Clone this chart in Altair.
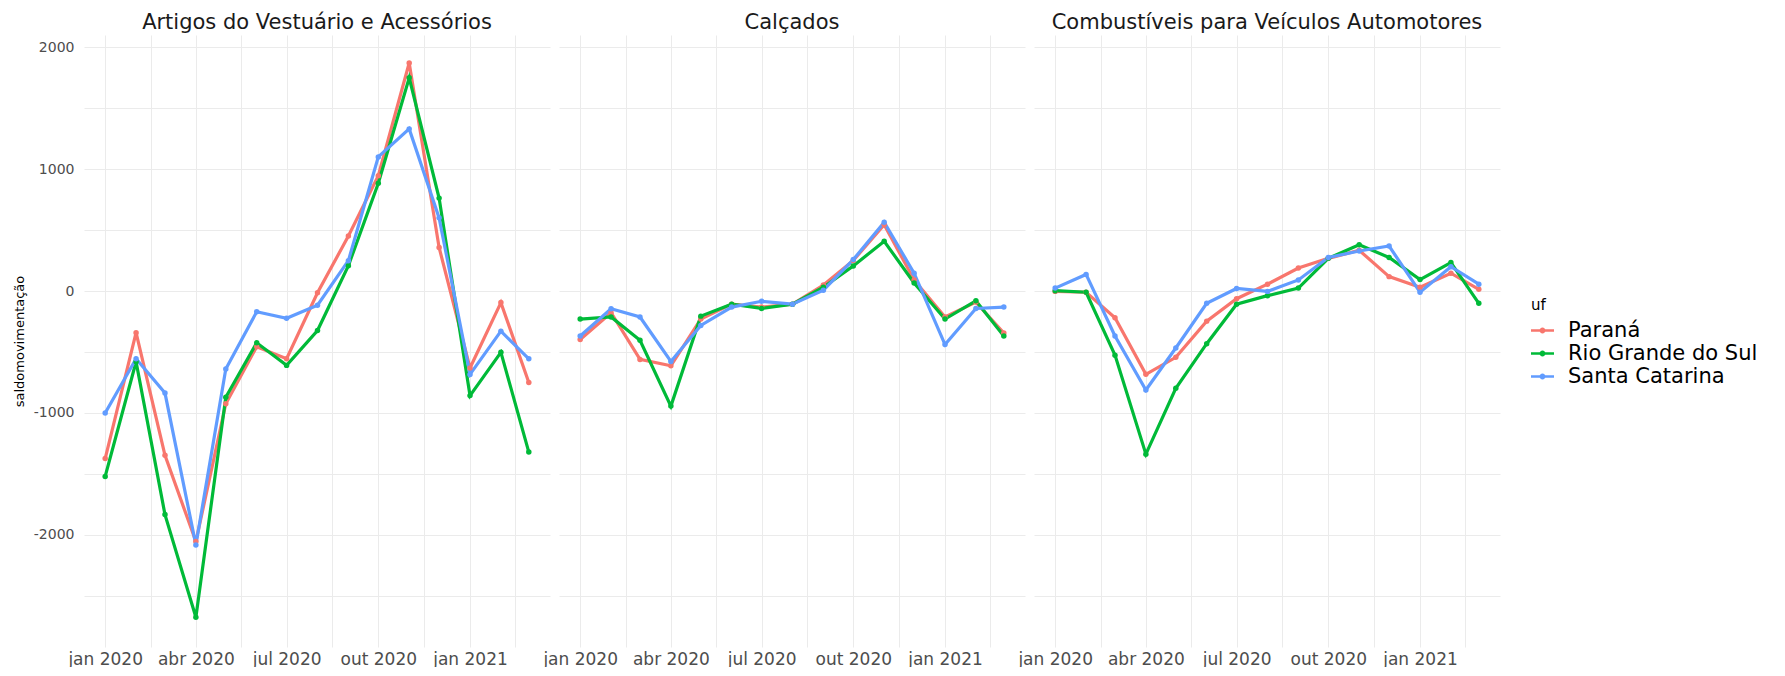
import altair as alt
import pandas as pd

# ---- data ----
meses = ["2020-01-01", "2020-02-01", "2020-03-01", "2020-04-01", "2020-05-01",
         "2020-06-01", "2020-07-01", "2020-08-01", "2020-09-01", "2020-10-01",
         "2020-11-01", "2020-12-01", "2021-01-01", "2021-02-01", "2021-03-01"]
categorias = ["Artigos do Vestuário e Acessórios", "Calçados",
              "Combustíveis para Veículos Automotores"]
ufs = ["Paraná", "Rio Grande do Sul", "Santa Catarina"]
cores = ["#F8766D", "#00BA38", "#619CFF"]

vest_pr = [-1374, -342, -1348, -2055, -925, -457, -556, -15, 451, 946, 1870, 357, -631, -95, -751]
vest_rs = [-1521, -580, -1834, -2676, -872, -425, -610, -324, 208, 884, 1749, 762, -858, -503, -1321]
vest_sc = [-1000, -556, -837, -2083, -639, -170, -224, -116, 249, 1100, 1330, 600, -684, -329, -556]

calc_pr = [-397, -178, -561, -613, -230, -108, -132, -108, 49, 251, 544, 91, -213, -91, -345]
calc_rs = [-230, -213, -404, -944, -206, -108, -143, -108, 31, 206, 408, 66, -230, -80, -369]
calc_sc = [-369, -146, -213, -578, -282, -132, -84, -108, 7, 258, 564, 146, -439, -143, -132]

comb_pr = [-3, -10, -220, -683, -544, -247, -63, 56, 188, 268, 334, 118, 31, 146, 14]
comb_rs = [3, -10, -526, -1338, -798, -432, -108, -38, 24, 268, 380, 275, 94, 233, -101]
comb_sc = [24, 136, -369, -812, -467, -101, 21, -3, 91, 275, 328, 369, -10, 199, 56]

series = {
    categorias[0]: [vest_pr, vest_rs, vest_sc],
    categorias[1]: [calc_pr, calc_rs, calc_sc],
    categorias[2]: [comb_pr, comb_rs, comb_sc],
}

rows = []
for cat in categorias:
    for uf, vals in zip(ufs, series[cat]):
        for m, v in zip(meses, vals):
            rows.append({"categoria": cat, "uf": uf, "mes": m, "saldo": v})
df = pd.DataFrame(rows)

# ---- axes / scales ----
x_values = [
    alt.DateTime(year=2020, month=1, date=1, utc=True),
    alt.DateTime(year=2020, month=2, date=15, hours=12, utc=True),
    alt.DateTime(year=2020, month=4, date=1, utc=True),
    alt.DateTime(year=2020, month=5, date=16, utc=True),
    alt.DateTime(year=2020, month=7, date=1, utc=True),
    alt.DateTime(year=2020, month=8, date=16, utc=True),
    alt.DateTime(year=2020, month=10, date=1, utc=True),
    alt.DateTime(year=2020, month=11, date=16, utc=True),
    alt.DateTime(year=2021, month=1, date=1, utc=True),
    alt.DateTime(year=2021, month=2, date=15, utc=True),
]
month_expr = ("utcdate(datum.value) == 1 ? "
              "['jan','fev','mar','abr','mai','jun','jul','ago','set','out','nov','dez']"
              "[utcmonth(datum.value)] + ' ' + utcyear(datum.value) : ''")

x_enc = alt.X(
    "mes:T",
    scale=alt.Scale(type="utc", domain=[
        alt.DateTime(year=2019, month=12, date=10, hours=18, utc=True),
        alt.DateTime(year=2021, month=3, date=22, hours=6, utc=True)]),
    axis=alt.Axis(values=x_values, labelExpr=month_expr, title=None, grid=True,
                  domain=False, ticks=False, labelFlush=False, labelOverlap=False,
                  labelFontSize=17, labelColor="#4D4D4D", labelPadding=4,
                  gridColor="#EBEBEB", gridWidth=1),
)
y_enc = alt.Y(
    "saldo:Q",
    scale=alt.Scale(domain=[-2920, 2100], nice=False, zero=False),
    axis=alt.Axis(values=[-2500, -2000, -1500, -1000, -500, 0, 500, 1000, 1500, 2000],
                  labelExpr="datum.value % 1000 == 0 ? '' + datum.value : ''",
                  title="saldomovimentação", titleFontSize=13, titleFontWeight="normal",
                  titleColor="#000000", titlePadding=7, grid=True, domain=False,
                  ticks=False, labelFontSize=14, labelColor="#4D4D4D", labelPadding=10,
                  gridColor="#EBEBEB", gridWidth=1),
)

legend_path = ("M-1,-0.1L1,-0.1L1,0.1L-1,0.1Z "
               "M-0.26,0A0.26,0.26 0 1,1 0.26,0A0.26,0.26 0 1,1 -0.26,0Z")

legenda = alt.Legend(
    title="uf", orient="none", legendX=1447, legendY=263,
    titleFontSize=15, titleFontWeight="normal", titleColor="#000000",
    titlePadding=6, labelFontSize=21, labelColor="#000000", labelOffset=14,
    symbolType=legend_path, symbolSize=529, symbolStrokeWidth=0,
    symbolOpacity=1, rowPadding=1, labelLimit=400)

color_scale = alt.Scale(domain=ufs, range=cores)

base = alt.Chart(df)

zero = base.mark_rule(color="#000000", strokeDash=[6, 4], strokeWidth=1).encode(
    y=alt.datum(0)
).transform_filter("datum.uf == 'Paraná' && datum.mes == '2020-01-01'")

linhas = base.mark_line(strokeWidth=3.2).encode(
    x=x_enc, y=y_enc,
    color=alt.Color("uf:N", scale=color_scale, legend=legenda),
)

pontos = base.mark_circle(size=30, opacity=1).encode(
    x=x_enc, y=y_enc,
    color=alt.Color("uf:N", scale=color_scale, legend=legenda),
)

painel = alt.layer(zero, linhas, pontos).properties(width=466, height=612)

chart = painel.facet(
    column=alt.Column("categoria:N", sort=categorias, title=None,
                      header=alt.Header(labelFontSize=21, labelColor="#1A1A1A",
                                        labelPadding=2, labelOrient="top")),
    spacing=9,
).properties(
    padding={"left": 5, "top": 4, "right": 0, "bottom": 0},
).configure(
    font="DejaVu Sans",
).configure_legend(
    padding=0,
).configure_view(
    strokeWidth=0,
)

chart.save("out.html", embed_options={"renderer": "svg", "actions": False})
